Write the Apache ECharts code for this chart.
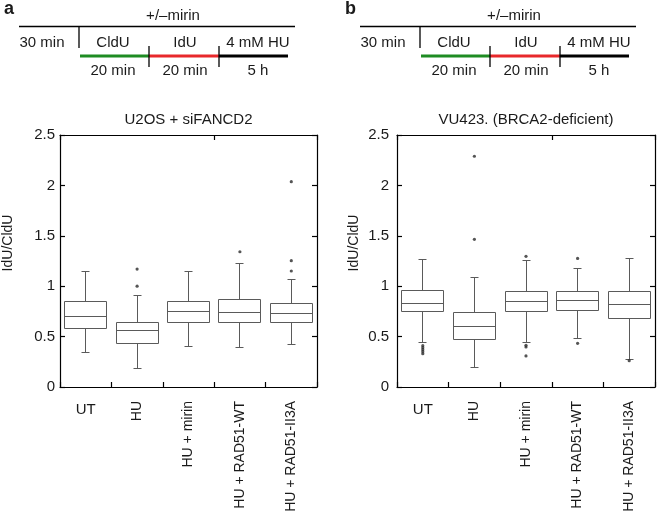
<!DOCTYPE html>
<html>
<head>
<meta charset="utf-8">
<script src="https://cdn.jsdelivr.net/npm/echarts@6/dist/echarts.min.js"></script>
<style>
html,body{margin:0;padding:0;background:#fff;}
#chart{width:660px;height:515px;}
</style>
</head>
<body>
<div id="chart"></div>
<script>
// ---- data ----
const categories = ['UT', 'HU', 'HU + mirin', 'HU + RAD51-WT', 'HU + RAD51-II3A'];
const yTicks = [0, 0.5, 1, 1.5, 2, 2.5];
const titleA = 'U2OS + siFANCD2';
const titleB = 'VU423. (BRCA2-deficient)';
const yName = 'IdU/CldU';
// [lower whisker, Q1, median, Q3, upper whisker]
const boxesA = [
  [0.344, 0.585, 0.701, 0.847, 1.148],
  [0.182, 0.436, 0.556, 0.641, 0.906],
  [0.397, 0.638, 0.747, 0.853, 1.148],
  [0.390, 0.638, 0.741, 0.873, 1.227],
  [0.420, 0.638, 0.731, 0.833, 1.071]
];
const outliersA = [
  [1, 1.17], [1, 1.00],
  [3, 1.342],
  [4, 2.037], [4, 1.253], [4, 1.151]
];
const boxesB = [
  [0.443, 0.747, 0.830, 0.959, 1.263],
  [0.195, 0.473, 0.602, 0.737, 1.091],
  [0.446, 0.747, 0.850, 0.952, 1.253],
  [0.483, 0.754, 0.863, 0.952, 1.177],
  [0.275, 0.675, 0.817, 0.946, 1.276]
];
const outliersB = [
  [0, 0.41], [0, 0.39], [0, 0.37], [0, 0.35], [0, 0.33],
  [1, 2.289], [1, 1.465],
  [2, 1.296], [2, 0.413], [2, 0.397], [2, 0.308],
  [3, 1.276], [3, 0.433],
  [4, 0.261]
];
// schematic labels
const schemTop = '+/\u2013mirin';
const schemPre = '30 min';
const schemSteps = ['CldU', 'IdU', '4 mM HU'];
const schemDur = ['20 min', '20 min', '5 h'];
const panelLetters = ['a', 'b'];

// ---- styling ----
const FONT = '"Liberation Sans", Arial, Helvetica, sans-serif';
const TXT = '#1a1a1a';
const BOXC = '#5a5a5a';

const chart = echarts.init(document.getElementById('chart'), null, {renderer: 'canvas'});

function crisp(v) { return Math.round(v - 0.5) + 0.5; }

function renderBox(params, api) {
  const x = api.value(0);
  const lo = api.value(1), q1 = api.value(2), md = api.value(3), q3 = api.value(4), hi = api.value(5);
  const pLo = api.coord([x, lo]), pQ1 = api.coord([x, q1]), pMd = api.coord([x, md]),
        pQ3 = api.coord([x, q3]), pHi = api.coord([x, hi]);
  const cw = api.size([1, 0])[0];
  const hw = cw * 0.4;
  const cap = 4;
  const cx = crisp(pMd[0]);
  const xl = crisp(cx - hw), xr = crisp(cx + hw);
  const yLo = crisp(pLo[1]), yQ1 = crisp(pQ1[1]), yMd = crisp(pMd[1]), yQ3 = crisp(pQ3[1]), yHi = crisp(pHi[1]);
  const st = {stroke: BOXC, lineWidth: 1, fill: null};
  return {
    type: 'group',
    children: [
      {type: 'rect', shape: {x: xl, y: yQ3, width: xr - xl, height: yQ1 - yQ3}, style: {stroke: BOXC, lineWidth: 1, fill: 'none'}},
      {type: 'line', shape: {x1: xl, y1: yMd, x2: xr, y2: yMd}, style: st},
      {type: 'line', shape: {x1: cx, y1: yQ3, x2: cx, y2: yHi}, style: st},
      {type: 'line', shape: {x1: cx, y1: yQ1, x2: cx, y2: yLo}, style: st},
      {type: 'line', shape: {x1: cx - cap, y1: yHi, x2: cx + cap, y2: yHi}, style: st},
      {type: 'line', shape: {x1: cx - cap, y1: yLo, x2: cx + cap, y2: yLo}, style: st}
    ]
  };
}

function schematic(dx, letter) {
  const els = [];
  const t = (text, x, y, extra) => els.push({
    type: 'text', x: x + dx, y: y,
    style: Object.assign({text: text, fill: TXT, font: '15px ' + FONT, align: 'center', verticalAlign: 'middle'}, extra || {})
  });
  const l = (x1, y1, x2, y2, color, w) => els.push({
    type: 'line', shape: {x1: x1 + dx, y1: y1, x2: x2 + dx, y2: y2},
    style: {stroke: color, lineWidth: w}
  });
  t(letter, 4, 9, {font: 'bold 18px ' + FONT, align: 'left'});
  t(schemTop, 173, 16);
  l(19, 26.5, 295, 26.5, '#000', 1.3);
  l(79, 26, 79, 48, '#000', 1.3);
  t(schemPre, 42, 43);
  l(80, 56, 149, 56, '#1e8c23', 3);
  l(149, 56, 219, 56, '#e8282b', 3);
  l(219, 56, 288, 56, '#000', 3);
  l(149, 46, 149, 67, '#000', 1.3);
  l(219, 46, 219, 67, '#000', 1.3);
  t(schemSteps[0], 113, 43);
  t(schemSteps[1], 185, 43);
  t(schemSteps[2], 258, 43);
  t(schemDur[0], 113, 71);
  t(schemDur[1], 185, 71);
  t(schemDur[2], 258, 71);
  return els;
}

const grids = [
  {left: 59, top: 135, width: 258, height: 252},
  {left: 397, top: 135, width: 258, height: 252}
];
const yLabelMargin = [5, 8];
const yNameGap = [45, 36];

const axisLineStyle = {color: '#000', width: 1.2};
const xAxes = [];
const yAxes = [];
[titleA, titleB].forEach((title, g) => {
  // main bottom axis, rotated labels (all but first)
  xAxes.push({
    gridIndex: g, type: 'category', data: categories, position: 'bottom',
    axisLine: {show: true, lineStyle: axisLineStyle},
    axisTick: {show: true, inside: true, length: 5, lineStyle: axisLineStyle},
    axisLabel: {rotate: 90, margin: 14, interval: 0, fontFamily: FONT, fontSize: 14, color: TXT,
      formatter: (v, i) => i === 0 ? '' : v},
    splitLine: {show: false}
  });
  // secondary bottom axis, horizontal label for first category
  xAxes.push({
    gridIndex: g, type: 'category', data: categories, position: 'bottom',
    axisLine: {show: false}, axisTick: {show: false},
    axisLabel: {rotate: 0, margin: 15, interval: 0, fontFamily: FONT, fontSize: 15, color: TXT,
      formatter: (v, i) => i === 0 ? v : ''},
    splitLine: {show: false}
  });
  // top frame axis with title
  xAxes.push({
    gridIndex: g, type: 'category', data: categories, position: 'top',
    axisLine: {show: true, lineStyle: axisLineStyle},
    axisTick: {show: true, inside: true, length: 5, lineStyle: axisLineStyle},
    axisLabel: {show: false},
    name: title, nameLocation: 'middle', nameGap: 8,
    nameTextStyle: {fontFamily: FONT, fontSize: 15, color: TXT},
    splitLine: {show: false}
  });
  yAxes.push({
    gridIndex: g, type: 'value', min: yTicks[0], max: yTicks[yTicks.length - 1], interval: 0.5, position: 'left',
    axisLine: {show: true, lineStyle: axisLineStyle},
    axisTick: {show: true, inside: true, length: 5, lineStyle: axisLineStyle},
    axisLabel: {fontFamily: FONT, fontSize: 15, color: TXT, margin: yLabelMargin[g]},
    splitLine: {show: false},
    name: yName, nameLocation: 'middle', nameGap: yNameGap[g], nameRotate: 90,
    nameTextStyle: {fontFamily: FONT, fontSize: 14, color: TXT, padding: [0, 0, 0, 36]}
  });
  yAxes.push({
    gridIndex: g, type: 'value', min: yTicks[0], max: yTicks[yTicks.length - 1], interval: 0.5, position: 'right',
    axisLine: {show: true, lineStyle: axisLineStyle},
    axisTick: {show: true, inside: true, length: 5, lineStyle: axisLineStyle},
    axisLabel: {show: false},
    splitLine: {show: false}
  });
});

function boxData(boxes) {
  return boxes.map((b, i) => [i].concat(b));
}

const series = [];
[[boxesA, outliersA], [boxesB, outliersB]].forEach(([boxes, outs], g) => {
  series.push({
    type: 'custom', xAxisIndex: g * 3, yAxisIndex: g * 2,
    renderItem: renderBox, data: boxData(boxes),
    encode: {x: 0, y: [1, 2, 3, 4, 5]}, silent: true, clip: false
  });
  series.push({
    type: 'scatter', xAxisIndex: g * 3, yAxisIndex: g * 2,
    data: outs, symbol: 'circle', symbolSize: 3.2,
    itemStyle: {color: '#2a2a2a'}, silent: true
  });
});

chart.setOption({
  backgroundColor: '#fff',
  animation: false,
  textStyle: {fontFamily: FONT},
  grid: grids,
  xAxis: xAxes,
  yAxis: yAxes,
  series: series,
  graphic: schematic(0, panelLetters[0]).concat(schematic(341, panelLetters[1]))
});
</script>
</body>
</html>
